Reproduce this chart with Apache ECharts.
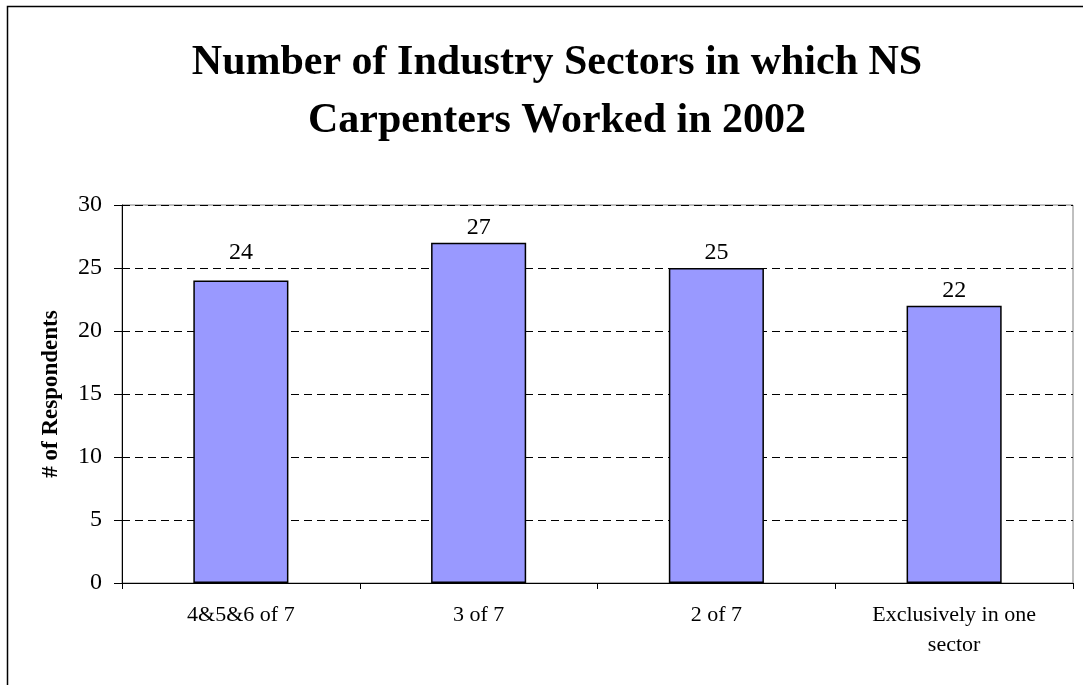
<!DOCTYPE html>
<html><head><meta charset="utf-8">
<script src="https://cdn.jsdelivr.net/npm/echarts@6/dist/echarts.min.js"></script>
<style>html,body{margin:0;padding:0;background:#fff}#c{width:1083px;height:685px}</style>
</head><body><div id="c"></div>
<script>
const categories = ['4&5&6 of 7', '3 of 7', '2 of 7', 'Exclusively in one\nsector'];
const respondents = [24, 27, 25, 22];
const yTicks = [0, 5, 10, 15, 20, 25, 30];
const chart = echarts.init(document.getElementById('c'));
const serif = '"Liberation Serif","Times New Roman",serif';
const barData = respondents.map((v, i) => i === 0 ? {value: v, label: {distance: 16}} : v);
chart.setOption({
  animation: false,
  backgroundColor: '#fff',
  graphic: [{type: 'rect', shape: {x: 7.5, y: 6.5, width: 1200, height: 800}, style: {fill: 'none', stroke: '#000', lineWidth: 1.5}, z: 100}],
  title: {
    text: 'Number of Industry Sectors in which NS\nCarpenters Worked in 2002',
    left: 552, top: 29, textAlign: 'center',
    textStyle: {fontFamily: serif, fontWeight: 'bold', fontSize: 42, lineHeight: 58, color: '#000'}
  },
  grid: {left: 122, right: 10, top: 205, bottom: 102, show: true, borderColor: '#808080', borderWidth: 1},
  xAxis: {
    type: 'category', data: categories,
    axisLine: {lineStyle: {color: '#000', width: 1}},
    axisTick: {show: true, length: 6, lineStyle: {color: '#000'}},
    axisLabel: {fontFamily: serif, fontSize: 22, color: '#000', margin: 17, lineHeight: 30}
  },
  yAxis: {
    type: 'value', min: yTicks[0], max: yTicks[yTicks.length - 1], interval: 5,
    name: '# of Respondents', nameLocation: 'middle', nameGap: 59,
    nameTextStyle: {fontFamily: serif, fontWeight: 'bold', fontSize: 23, color: '#000'},
    axisLine: {show: true, lineStyle: {color: '#000'}},
    axisTick: {show: true, length: 8, lineStyle: {color: '#000'}},
    axisLabel: {fontFamily: serif, fontSize: 24, color: '#000', margin: 20},
    splitLine: {show: true, lineStyle: {color: '#000', type: [8, 5], width: 1}}
  },
  series: [{
    type: 'bar', data: barData, barWidth: '40%',
    itemStyle: {color: '#9999FF', borderColor: '#000', borderWidth: 1.5},
    label: {show: true, position: 'top', distance: 3, fontFamily: serif, fontSize: 24, color: '#000'}
  }]
});
</script></body></html>
